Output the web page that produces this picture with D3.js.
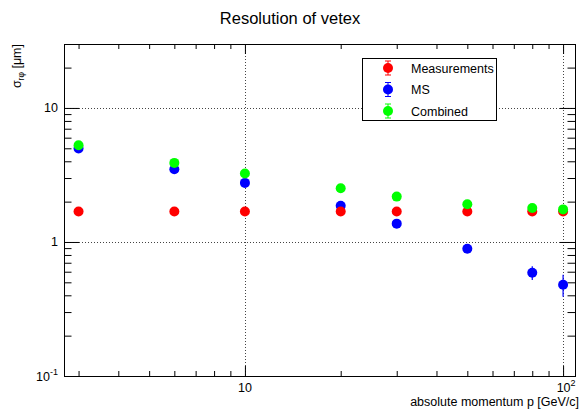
<!DOCTYPE html>
<html>
<head>
<meta charset="utf-8">
<script src="https://cdn.jsdelivr.net/npm/d3@7"></script>
<style>
  body { margin: 0; background: #fff; }
  text { font-family: "Liberation Sans", Arial, Helvetica, sans-serif; }
</style>
</head>
<body>
<svg id="chart"></svg>
<script>
// momentum points [GeV/c]
let momentum = [3, 6, 10, 20, 30, 50, 80, 100];

// sigma_rphi [um] for each series
let measurements = [1.69, 1.69, 1.69, 1.69, 1.69, 1.69, 1.69, 1.69];
let ms = [4.98, 3.49, 2.76, 1.86, 1.37, 0.89, 0.59, 0.48];
let combined = [5.27, 3.89, 3.24, 2.52, 2.18, 1.91, 1.79, 1.75];

// error bars (mostly hidden under markers)
let measErr = [0.02, 0.02, 0.02, 0.02, 0.02, 0.02, 0.02, 0.02];
let msErr = [0.1, 0.07, 0.05, 0.04, 0.03, 0.03, 0.07, 0.09];
let combErr = [0.05, 0.04, 0.03, 0.03, 0.03, 0.02, 0.02, 0.02];

let seriesNames = ['Measurements', 'MS', 'Combined'];

// axis labels
let xMajor = [10, 100];
let xMajorLabels = [['10', ''], ['10', '2']];
let yMajor = [0.1, 1, 10];
let yMajorLabels = [['10', '-1'], ['1', ''], ['10', '']];

let width = 582;
let height = 414;
let frame = {left: 64, right: 575, top: 44, bottom: 376};

let svg = d3.select('#chart')
  .attr('width', width)
  .attr('height', height);

svg.append('rect')
  .attr('width', width)
  .attr('height', height)
  .attr('fill', '#fff');

let xScale = d3.scaleLog()
  .domain([2.7, 109])
  .range([frame.left, frame.right]);

let yScale = d3.scaleLog()
  .domain([0.1, 30])
  .range([frame.bottom, frame.top]);

// minor ticks: 2..9 x each decade inside the domain
let minorTicks = (scale) => {
  let [a, b] = scale.domain();
  let out = [];
  for (let e = -2; e <= 3; e++) {
    for (let m = 2; m <= 9; m++) {
      let v = m * Math.pow(10, e);
      if (v >= a && v <= b) out.push(v);
    }
  }
  return out;
};

// grid
let grid = svg.append('g').attr('stroke', '#444').attr('stroke-dasharray', '1,2').attr('stroke-width', 1);
xMajor.forEach((v) => {
  grid.append('line')
    .attr('x1', Math.round(xScale(v)) + 0.5).attr('x2', Math.round(xScale(v)) + 0.5)
    .attr('y1', frame.top).attr('y2', frame.bottom);
});
yMajor.filter((v) => v > 0.1).forEach((v) => {
  grid.append('line')
    .attr('y1', Math.round(yScale(v)) + 0.5).attr('y2', Math.round(yScale(v)) + 0.5)
    .attr('x1', frame.left).attr('x2', frame.right);
});

// axes with ticks on all four sides
let addAxis = (axisFn, scale, values, len, transform) => {
  svg.append('g')
    .attr('transform', transform)
    .call(axisFn(scale).tickValues(values).tickSize(len).tickSizeOuter(0).tickFormat(''))
    .call((g) => g.select('.domain').remove())
    .call((g) => g.selectAll('line').attr('stroke', '#000'));
};

// bottom / top (ticks point inward)
addAxis(d3.axisTop, xScale, xMajor, 10, `translate(0,${frame.bottom})`);
addAxis(d3.axisTop, xScale, minorTicks(xScale).filter((v) => xMajor.indexOf(v) < 0), 5, `translate(0,${frame.bottom})`);
addAxis(d3.axisBottom, xScale, xMajor, 10, `translate(0,${frame.top})`);
addAxis(d3.axisBottom, xScale, minorTicks(xScale).filter((v) => xMajor.indexOf(v) < 0), 5, `translate(0,${frame.top})`);
// left / right
addAxis(d3.axisRight, yScale, yMajor, 15, `translate(${frame.left},0)`);
addAxis(d3.axisRight, yScale, minorTicks(yScale).filter((v) => yMajor.indexOf(v) < 0), 7.5, `translate(${frame.left},0)`);
addAxis(d3.axisLeft, yScale, yMajor, 15, `translate(${frame.right},0)`);
addAxis(d3.axisLeft, yScale, minorTicks(yScale).filter((v) => yMajor.indexOf(v) < 0), 7.5, `translate(${frame.right},0)`);

// frame
svg.append('rect')
  .attr('x', frame.left + 0.5)
  .attr('y', frame.top + 0.5)
  .attr('width', frame.right - frame.left)
  .attr('height', frame.bottom - frame.top)
  .attr('fill', 'none')
  .attr('stroke', '#000')
  .attr('stroke-width', 1);

// tick labels
let powLabel = (sel, base, exp) => {
  sel.append('tspan').text(base);
  if (exp) sel.append('tspan').attr('dy', -6).attr('font-size', 9).text(exp);
};

xMajor.forEach((v, i) => {
  let t = svg.append('text')
    .attr('x', xScale(v) + (xMajorLabels[i][1] ? 3 : 0))
    .attr('y', 392)
    .attr('text-anchor', 'middle')
    .attr('font-size', 12.5);
  powLabel(t, xMajorLabels[i][0], xMajorLabels[i][1]);
});

yMajor.forEach((v, i) => {
  let t = svg.append('text')
    .attr('x', 58)
    .attr('y', yScale(v) + 4.5)
    .attr('text-anchor', 'end')
    .attr('font-size', 12.5);
  powLabel(t, yMajorLabels[i][0], yMajorLabels[i][1]);
});

// titles
svg.append('text')
  .attr('x', 290)
  .attr('y', 24)
  .attr('text-anchor', 'middle')
  .attr('font-size', 16.5)
  .text('Resolution of vetex');

svg.append('text')
  .attr('x', 579)
  .attr('y', 406)
  .attr('text-anchor', 'end')
  .attr('font-size', 12.5)
  .text('absolute momentum p [GeV/c]');

let ylab = svg.append('text')
  .attr('transform', 'translate(21,44) rotate(-90)')
  .attr('text-anchor', 'end')
  .attr('font-size', 12.5);
ylab.append('tspan').text('σ');
ylab.append('tspan').attr('dy', 3).attr('font-size', 8.5).text('rφ');
ylab.append('tspan').attr('dy', -3).text(' [μm]');

// data series
let series = [
  {name: 'MS', values: ms, errs: msErr, color: '#0000ff'},
  {name: 'Measurements', values: measurements, errs: measErr, color: '#ff0000'},
  {name: 'Combined', values: combined, errs: combErr, color: '#00ff00'}
];

series.forEach((s) => {
  let g = svg.append('g');
  let pts = momentum.map((p, i) => ({x: p, y: s.values[i], e: s.errs[i]}));
  g.selectAll('line.err')
    .data(pts)
    .enter()
    .append('line')
    .attr('class', 'err')
    .attr('x1', (d) => xScale(d.x))
    .attr('x2', (d) => xScale(d.x))
    .attr('y1', (d) => yScale(d.y + d.e))
    .attr('y2', (d) => yScale(d.y - d.e))
    .attr('stroke', s.color)
    .attr('stroke-width', 1.2);
  g.selectAll('circle')
    .data(pts)
    .enter()
    .append('circle')
    .attr('cx', (d) => xScale(d.x))
    .attr('cy', (d) => yScale(d.y))
    .attr('r', 5)
    .attr('fill', s.color);
});

// legend
let legend = svg.append('g');
legend.append('rect')
  .attr('x', 362.5)
  .attr('y', 58.5)
  .attr('width', 134)
  .attr('height', 62)
  .attr('fill', '#fff')
  .attr('stroke', '#000')
  .attr('stroke-width', 1);

let legendColors = {'Measurements': '#ff0000', 'MS': '#0000ff', 'Combined': '#00ff00'};
seriesNames.forEach((name, i) => {
  let cy = 68 + i * 21.5;
  let c = legendColors[name];
  legend.append('line').attr('x1', 388).attr('x2', 388).attr('y1', cy - 7).attr('y2', cy + 7).attr('stroke', c);
  legend.append('line').attr('x1', 385).attr('x2', 391).attr('y1', cy - 7).attr('y2', cy - 7).attr('stroke', c);
  legend.append('line').attr('x1', 385).attr('x2', 391).attr('y1', cy + 7).attr('y2', cy + 7).attr('stroke', c);
  legend.append('circle').attr('cx', 388).attr('cy', cy).attr('r', 5).attr('fill', c);
  legend.append('text')
    .attr('x', 411)
    .attr('y', cy + 4.5)
    .attr('font-size', 12.5)
    .text(name);
});
</script>
</body>
</html>
